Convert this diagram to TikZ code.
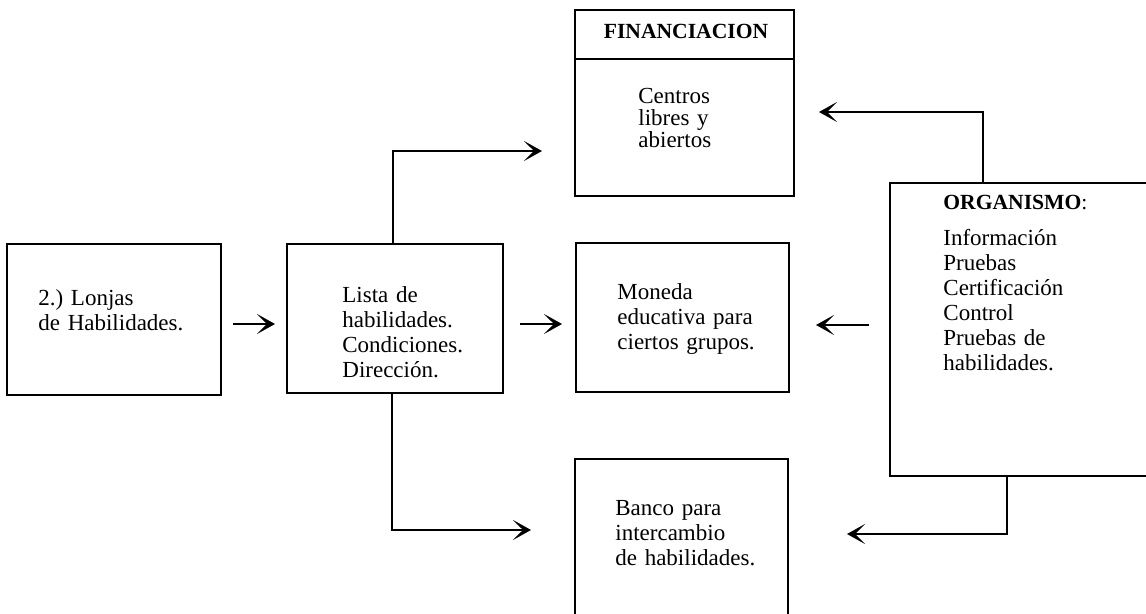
\documentclass[tikz,border=0pt]{standalone}
\usepackage{fontspec}
\setmainfont{Liberation Serif}
\usetikzlibrary{arrows.meta}
\frenchspacing

\begin{document}
\begin{tikzpicture}[x=0.5pt,y=-0.5pt,
	box/.style={draw,line width=1pt,inner sep=0pt},
	txt/.style={anchor=base west,align=left,inner sep=0pt,text width=130pt,
		font=\fontsize{11.5}{12.5}\selectfont},
	arr/.style={line width=1.1pt,-{Stealth[length=9pt,width=10pt,inset=5pt]}}]
\useasboundingbox (0,0) rectangle (1146,614);
% boxes
\node[box,minimum width=107pt,minimum height=75.5pt] (lonjas) at (114,319.5) {};
\node[box,minimum width=108pt,minimum height=74.5pt] (lista) at (395,318.5) {};
\node[box,minimum width=109.5pt,minimum height=93pt] (fin) at (684.5,103) {};
\node[box,minimum width=106.5pt,minimum height=74.5pt] (moneda) at (682.5,317.5) {};
\node[box,minimum width=106.5pt,minimum height=90.5pt] (banco) at (681.5,549.5) {};
\node[box,minimum width=140pt,minimum height=146.5pt] (organismo) at (1030,329.5) {};
\draw[line width=1pt] ([yshift=-25pt]fin.north west) -- ([yshift=-25pt]fin.north east);
% texts
\node[txt] (lonjastxt) at (38,306) {2.) Lonjas\\de Habilidades.};
\node[txt] (listatxt) at (342,303) {Lista de\\habilidades.\\Condiciones.\\Dirección.};
\node[anchor=base,inner sep=0pt,font=\fontsize{10.8}{12.5}\selectfont\bfseries] (finhead) at (686,39) {FINANCIACION};
\node[txt,font=\fontsize{11.5}{11}\selectfont] (fintxt) at (638,104) {Centros\\libres y\\abiertos};
\node[txt] (monedatxt) at (617,300) {Moneda\\educativa para\\ciertos grupos.};
\node[txt] (bancotxt) at (615,516) {Banco para\\intercambio\\de habilidades.};
\node[txt,font=\fontsize{10.8}{12.5}\selectfont] (orghead) at (943,210) {\textbf{ORGANISMO}:};
\node[txt] (orgtxt) at (943,246) {Información\\Pruebas\\Certificación\\Control\\Pruebas de\\habilidades.};
% arrows
\draw[arr,shorten <=5.5pt,shorten >=5.5pt] ([yshift=-2.25pt]lonjas.east) -- ([yshift=-2.25pt]lonjas.east -| lista.west);
\draw[arr,shorten <=8pt,shorten >=6.5pt] ([yshift=-2.75pt]lista.east) -- ([yshift=-2.75pt]lista.east -| moneda.west);
\draw[arr,shorten >=16pt] ([xshift=-1pt]lista.north) |- ([yshift=-24pt]fin.west);
\draw[arr,shorten >=21.5pt] ([xshift=-1.5pt]lista.south) |- ([yshift=9.75pt]banco.west);
\draw[arr,shorten >=12pt] ([xshift=-23.5pt]organismo.north) |- ([yshift=-4.5pt]fin.east);
\draw[arr,shorten <=10pt,shorten >=13pt] ([yshift=-3.75pt]moneda.east -| organismo.west) -- ([yshift=-3.75pt]moneda.east);
\draw[arr,shorten >=29pt] ([xshift=-11.5pt]organismo.south) |- ([yshift=7.75pt]banco.east);
\end{tikzpicture}
\end{document}
